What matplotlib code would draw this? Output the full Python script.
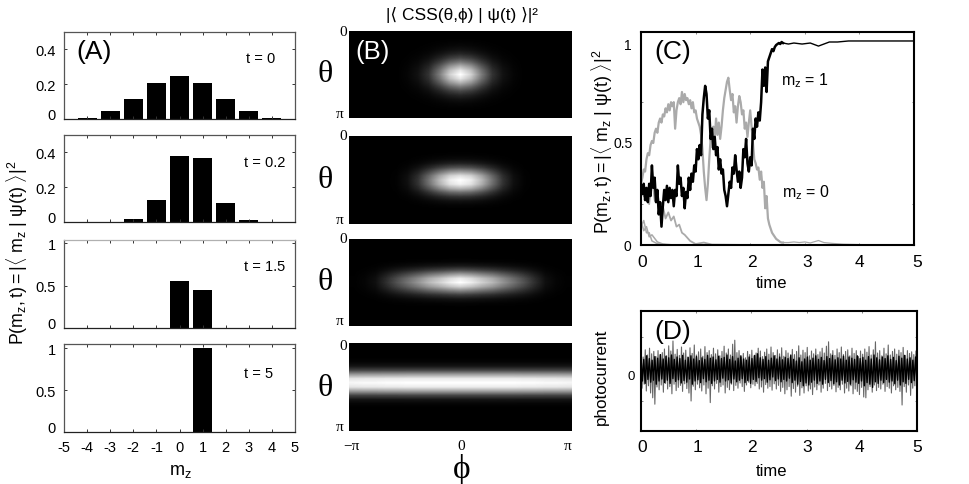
import numpy as np
import matplotlib
matplotlib.use('Agg')
import matplotlib.pyplot as plt

plt.rcParams['font.family'] = ['Liberation Sans', 'DejaVu Sans']
plt.rcParams['axes.unicode_minus'] = False
plt.rcParams['mathtext.fontset'] = 'custom'
plt.rcParams['mathtext.rm'] = 'Liberation Sans'
plt.rcParams['mathtext.it'] = 'Liberation Sans'
plt.rcParams['mathtext.bf'] = 'Liberation Sans'

W, H = 969, 485

#Panel A: bars
mz = [-5, -4, -3, -2, -1, 0, 1, 2, 3, 4, 5]
prob_t0 = [0, 0.008, 0.044, 0.117, 0.205, 0.246, 0.205, 0.117, 0.044, 0.008, 0]
prob_t02 = [0, 0.002, 0.002, 0.015, 0.125, 0.38, 0.37, 0.11, 0.012, 0.002, 0]
prob_t15 = [0, 0, 0, 0, 0, 0.55, 0.445, 0, 0, 0, 0]
prob_t5 = [0, 0, 0, 0, 0, 0, 1.0, 0, 0, 0, 0]
time_labels = ['t = 0', 't = 0.2', 't = 1.5', 't = 5']

#Panel B: profiles along phi and theta, read at 21 places across each map
phi_1 = [0, 0, 0, 0, 0, 0.02, 0.07, 0.2, 0.48, 0.82, 1, 0.82, 0.48, 0.2, 0.07, 0.02, 0, 0, 0, 0, 0]
theta_1 = [0, 0, 0.01, 0.03, 0.07, 0.15, 0.28, 0.47, 0.7, 0.9, 1, 0.9, 0.7, 0.47, 0.28, 0.15, 0.07, 0.03, 0.01, 0, 0]
phi_2 = [0, 0, 0, 0, 0.01, 0.06, 0.2, 0.45, 0.72, 0.93, 1, 0.93, 0.72, 0.45, 0.2, 0.06, 0.01, 0, 0, 0, 0]
theta_2 = [0, 0, 0, 0, 0.01, 0.04, 0.13, 0.32, 0.6, 0.88, 1, 0.95, 0.72, 0.42, 0.2, 0.07, 0.02, 0, 0, 0, 0]
phi_3 = [0.005, 0.02, 0.06, 0.18, 0.32, 0.45, 0.58, 0.72, 0.82, 0.93, 1, 0.93, 0.82, 0.72, 0.58, 0.45, 0.32, 0.18, 0.06, 0.02, 0.005]
theta_3 = [0, 0, 0, 0, 0, 0.02, 0.1, 0.3, 0.62, 0.92, 1, 0.82, 0.52, 0.24, 0.08, 0.02, 0, 0, 0, 0, 0]
phi_4 = [0.97, 0.98, 0.98, 0.99, 0.99, 1, 1, 1, 1, 1, 1, 1, 1, 1, 1, 1, 0.99, 0.99, 0.98, 0.98, 0.97]
theta_4 = [0, 0, 0, 0, 0.02, 0.08, 0.27, 0.62, 0.92, 1, 0.92, 0.62, 0.27, 0.08, 0.02, 0, 0, 0, 0, 0, 0]

#Panel C: m_z = 1 and m_z = 0, one value every 0.025 up to t = 2.6
dt_c = 0.025
p_m1 = [.29, .25, .30, .22, .28, .21, .30, .24, .39, .28, .33, .21, .27, .15, .21, .09, .19, .27, .22, .29, .21,
        .28, .23, .27, .19, .27, .24, .39, .30, .33, .24, .28, .18, .26, .23, .33, .27, .35, .31, .39, .36, .47,
        .42, .49, .44, .64, .72, .78, .74, .62, .66, .52, .57, .47, .53, .44, .48, .37, .42, .35, .37, .27, .24,
        .19, .25, .31, .28, .38, .35, .44, .37, .31, .36, .28, .33, .47, .43, .52, .40, .36, .43, .39, .57, .52,
        .62, .58, .65, .61, .70, .86, .78, .87, .75, .90, .92, .94, .96, .95, .97, .98, .985, .99, .985, .995, .99]
p_m0 = [.30, .33, .37, .36, .42, .45, .44, .49, .51, .50, .55, .57, .55, .60, .62, .60, .64, .63, .67, .65, .69,
        .66, .70, .68, .70, .57, .66, .70, .72, .69, .75, .70, .74, .71, .72, .69, .71, .67, .70, .65, .66, .62,
        .60, .58, .54, .47, .36, .28, .22, .30, .42, .52, .48, .58, .52, .62, .54, .60, .52, .58, .66, .72, .76,
        .80, .82, .76, .71, .74, .65, .68, .60, .68, .73, .70, .64, .66, .57, .60, .53, .60, .66, .58, .50, .42,
        .40, .37, .38, .32, .36, .28, .31, .18, .24, .13, .10, .08, .06, .05, .04, .03, .025, .02, .015, .012, .012]
t_m1_tail = [2.7, 2.8, 2.95, 3.1, 3.25, 3.35, 3.45, 3.6, 3.8, 4.0, 4.5, 5.0]
p_m1_tail = [.985, .99, .985, .99, .975, .985, .995, .995, 1.0, 1.0, 1.0, 1.0]
t_m0_tail = [2.7, 2.8, 2.9, 3.0, 3.1, 3.2, 3.25, 3.35, 3.5, 3.7, 4.0, 4.6, 5.0]
p_m0_tail = [.012, .015, .012, .015, .01, .018, .022, .012, .008, .004, .002, 0, 0]
t_mm1 = [0, .05, .1, .15, .2, .25, .3, .35, .4, .45, .5, .55, .6, .65, .7, .75, .8, .85, .9, 1.0, 1.15, 1.3, 2.0, 5.0]
p_mm1 = [.30, .24, .27, .20, .34, .22, .26, .16, .19, .13, .16, .12, .14, .09, .10, .06, .05, .035, .02, .005, .012, .002, 0, 0]
t_mm2 = [0, .05, .1, .15, .2, .3, .4, .6, 5.0]
p_mm2 = [.12, .07, .09, .04, .05, .015, .005, 0, 0]
t_m2 = [0, .05, .1, .15, .2, .3, .5, 5.0]
p_m2 = [.09, .12, .06, .06, .02, .006, 0, 0]

#Panel D: photocurrent, peaks of the trace in hundredths, evenly spread over t = 0..5
spike_up = [42, 30, 48, 35, 52, 38, 44, 31, 46, 36, 41, 50, 33, 58, 45, 70, 37, 49, 34, 55, 40, 47, 30, 53, 39, 60, 35, 43,
            50, 32, 56, 41, 46, 36, 52, 38, 48, 33, 44, 57, 40, 50, 35, 62, 72, 41, 46, 30, 39, 28, 44, 36, 47, 33, 40,
            52, 45, 31, 42, 50, 37, 55, 41, 34, 48, 38, 53, 32, 46, 40, 30, 49, 36, 44, 58, 35, 47, 41, 54, 33, 45, 38,
            50, 36, 43, 52, 40, 57, 68, 38, 46, 34, 50, 41, 55, 36, 44, 48, 33, 52, 39, 46, 31, 45, 37, 50, 42, 56, 35,
            48, 68, 40, 46, 33, 52, 38, 60, 35, 44, 50, 37, 47, 41, 54, 34, 46, 39, 43, 36, 45]
spike_dn = [48, 38, 55, 42, 60, 72, 88, 45, 52, 40, 58, 36, 50, 44, 62, 38, 54, 46, 41, 56, 37, 49, 60, 80, 43, 52, 38, 47,
            55, 40, 62, 48, 84, 42, 50, 36, 58, 44, 40, 60, 46, 52, 38, 54, 41, 48, 35, 44, 56, 40, 33, 47, 38, 42, 36,
            50, 45, 58, 39, 48, 44, 53, 37, 50, 41, 56, 46, 62, 52, 44, 68, 49, 58, 43, 66, 47, 60, 42, 55, 50, 64, 45,
            52, 40, 58, 48, 36, 54, 44, 50, 41, 57, 46, 52, 38, 60, 48, 55, 42, 62, 50, 56, 64, 46, 70, 72, 52, 44, 58,
            40, 54, 46, 50, 38, 56, 44, 48, 60, 42, 52, 46, 56, 90, 44, 58, 40, 66, 48, 42, 52]
band_up = [30, 24, 33, 26, 22, 31, 27, 36, 25, 32, 28, 35, 24, 30, 26, 34, 22, 29, 33, 25, 31, 21, 28, 24, 34, 27, 30, 23,
           32, 26, 29, 35, 24, 31, 20, 27, 33, 25, 22, 30, 26, 34, 38, 28, 24, 31, 22, 27, 33, 25, 30, 23, 29, 26, 35,
           24, 20, 28, 18, 25, 30, 22, 27, 33, 24, 29, 21, 31, 26, 34, 23, 28, 25, 32, 22, 30, 27, 24, 33, 26, 29, 22,
           31, 25, 35, 28, 23, 30, 26, 33, 24, 29, 21, 32, 27, 34, 25, 28, 22, 30]
band_dn = [30, 36, 26, 33, 28, 38, 30, 25, 34, 28, 36, 24, 31, 27, 35, 29, 33, 25, 38, 30, 27, 34, 24, 32, 28, 36, 30, 26,
           33, 23, 30, 27, 35, 25, 32, 28, 24, 34, 29, 36, 26, 31, 22, 28, 24, 33, 27, 20, 29, 25, 32, 26, 30, 23, 34,
           28, 38, 31, 42, 35, 40, 33, 28, 36, 30, 38, 26, 34, 29, 37, 32, 40, 28, 35, 31, 38, 27, 33, 36, 30, 42, 34,
           38, 46, 32, 36, 28, 34, 26, 33, 30, 37, 28, 40, 32, 36, 26, 34, 29, 31]

fig = plt.figure(figsize=(W / 100, H / 100), dpi=100)


#Axes and text are placed in picture pixels
def make_axes(left, top, right, bottom):
    return fig.add_axes([left / W, 1 - bottom / H, (right - left) / W, (bottom - top) / H])


def put(x, y, s, **kw):
    kw.setdefault('ha', 'center')
    kw.setdefault('va', 'center')
    fig.text(x / W, 1 - y / H, s, **kw)


#Panel A
boxes_a = [(33, 120), (136, 223), (241, 329), (345, 433)]
tops_a = [0.5, 0.5, 1.04, 1.05]
ticks_a = [[0, 0.2, 0.4], [0, 0.2, 0.4], [0, 0.5, 1], [0, 0.5, 1]]
probs = [prob_t0, prob_t02, prob_t15, prob_t5]
text_pos = [(261, 59), (265, 163), (265, 267), (259, 374)]
for i in range(4):
    ax = make_axes(64, boxes_a[i][0], 295, boxes_a[i][1])
    ax.bar(mz, probs[i], width=0.82, color='black')
    ax.set_xlim(-5, 5)
    ax.set_ylim(0, tops_a[i])
    ax.set_xticks(mz)
    ax.set_yticks(ticks_a[i])
    ax.set_yticklabels([str(v) for v in ticks_a[i]], fontsize=10.5)
    ax.get_yticklabels()[0].set_va('baseline')
    ax.tick_params(direction='in', top=True, right=True, length=2.5, width=0.7, pad=6, color='#333333')
    if i == 3:
        ax.set_xticklabels([str(m) for m in mz], fontsize=10.5)
    else:
        ax.set_xticklabels([])
    for s in ax.spines.values():
        s.set_linewidth(0.9)
        s.set_color('#555555')
    ax.spines['bottom'].set_color('#222222')
    if i == 2:
        ax.spines['top'].set_color('#b0b0b0')
    put(text_pos[i][0], text_pos[i][1], time_labels[i], fontsize=10.5)
put(94, 52, '(A)', fontsize=19)
put(180, 472, r'$\mathrm{m_z}$', fontsize=13)
put(17, 253, r'$\mathrm{P(m_z,t)=|\langle\ m_z\ |\ \psi(t)\ \rangle|^2}$', fontsize=12.8, rotation=90)

#Panel B
boxes_b = [(32, 119), (137, 225), (240, 327), (344, 432)]
maps_b = [(phi_1, theta_1), (phi_2, theta_2), (phi_3, theta_3), (phi_4, theta_4)]
serif = 'Liberation Serif'
zero_y = [32, 137, 240, 346]
pi_y = [115, 221, 322, 428]
big_y = [75, 180, 283, 389]
for i in range(4):
    ax = make_axes(349, boxes_b[i][0], 572, boxes_b[i][1])
    ax.imshow(np.outer(maps_b[i][1], maps_b[i][0]), cmap='gray', vmin=0, vmax=1, aspect='auto',
              interpolation='bilinear', extent=[-np.pi, np.pi, np.pi, 0])
    ax.set_xticks([])
    ax.set_yticks([])
    for s in ax.spines.values():
        s.set_visible(False)
    put(343, zero_y[i], '0', fontsize=11, family=serif)
    put(340, pi_y[i], 'π', fontsize=11, family=serif)
    put(325, big_y[i], 'θ', fontsize=23, family=serif)
put(373, 52, '(B)', fontsize=18.5, color='white')
put(462, 15, '|⟨ CSS(θ,ϕ) | ψ(t) ⟩|²', fontsize=12.5)
put(351, 447, '−π', fontsize=11, family=serif)
put(461, 447, '0', fontsize=11, family=serif)
put(568, 447, 'π', fontsize=11, family=serif)
put(462, 470, 'ϕ', fontsize=24, family=serif)

#Panel C, thicker where the traces are noisy and thin once they settle
ax = make_axes(641, 33, 914, 246)
t_m1 = np.arange(len(p_m1)) * dt_c
t_m0 = np.arange(len(p_m0)) * dt_c
ax.plot(t_mm2, p_mm2, color='#aaaaaa', lw=1.1)
ax.plot(t_m2, p_m2, color='#aaaaaa', lw=1.1)
ax.plot(t_mm1, p_mm1, color='#aaaaaa', lw=1.3)
ax.plot(t_m0, p_m0, color='#aaaaaa', lw=1.6)
ax.plot([t_m0[-1]] + t_m0_tail, [p_m0[-1]] + p_m0_tail, color='#aaaaaa', lw=0.9)
ax.plot(t_m1, p_m1, color='black', lw=1.8)
ax.plot([t_m1[-1]] + t_m1_tail, [p_m1[-1]] + p_m1_tail, color='black', lw=1.0)
ax.set_xlim(0, 5)
ax.set_ylim(0, 1.044)
ax.set_xticks([0, 1, 2, 3, 4, 5])
ax.set_yticks([0.2, 0.7])
ax.set_xticklabels([])
ax.set_yticklabels([])
ax.tick_params(direction='in', top=True, right=True, length=1.5, width=0.5, color='#555555')
for s in ax.spines.values():
    s.set_linewidth(1.5)
put(673, 52, '(C)', fontsize=19)
put(628, 46, '1', fontsize=10)
put(623, 144, '0.5', fontsize=10)
put(627, 247, '0', fontsize=10)
x_label_pos = [642, 697, 752, 807, 859, 917]
for x, s in zip(x_label_pos, '012345'):
    put(x, 263, s, fontsize=12.5)
    put(x, 448, s, fontsize=12.5)
put(771, 284, 'time', fontsize=12)
put(805, 81, r'$\mathrm{m_z}$ = 1', fontsize=11.5)
put(806, 193, r'$\mathrm{m_z}$ = 0', fontsize=11.5)
put(602, 142, r'$\mathrm{P(m_z,t)=|\langle\ m_z\ |\ \psi(t)\ \rangle|^2}$', fontsize=12.8, rotation=90)

#Panel D
ax = make_axes(641, 312, 917, 432)
trace_gray = np.column_stack([spike_up, -np.array(spike_dn)]).ravel() / 100
trace_black = np.column_stack([band_up, -np.array(band_dn)]).ravel() / 100
ax.plot(np.linspace(0, 5, len(trace_gray)), trace_gray, color='#666666', lw=0.8)
ax.plot(np.linspace(0, 5, len(trace_black)), trace_black, color='black', lw=1.0)
ax.set_xlim(0, 5)
ax.set_ylim(-1.55, 1.45)
ax.set_xticks([0, 1, 2, 3, 4, 5])
ax.set_yticks([-0.8, 0, 0.8])
ax.set_xticklabels([])
ax.set_yticklabels([])
ax.tick_params(direction='in', top=True, right=True, length=1.5, width=0.5, color='#555555')
for s in ax.spines.values():
    s.set_linewidth(1.5)
put(673, 332, '(D)', fontsize=19)
put(631, 377, '0', fontsize=9.5)
put(601, 377, 'photocurrent', fontsize=12.3, rotation=90)
put(772, 472, 'time', fontsize=12)

fig.savefig('out.png', dpi=100)
